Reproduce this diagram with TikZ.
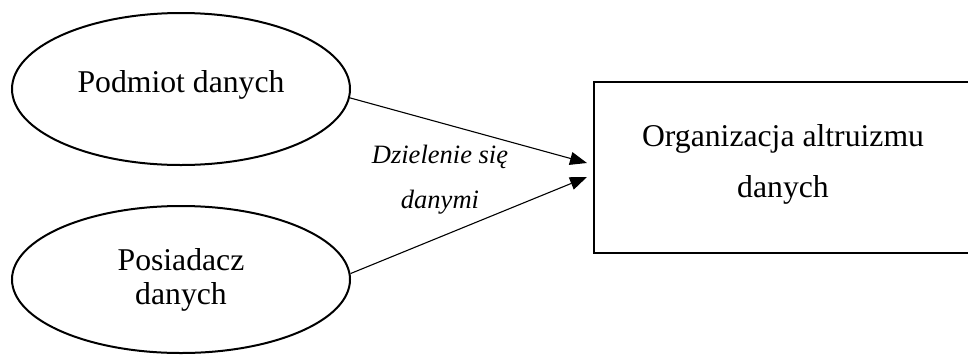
\documentclass[tikz,border=0pt]{standalone}
\usepackage{fontspec}
\setmainfont{Liberation Serif}
\usetikzlibrary{shapes.geometric,arrows.meta}
\begin{document}
\begin{tikzpicture}[x=1pt,y=-1pt,
  actor/.style={ellipse,draw,line width=2pt,minimum width=338pt,align=center,
    font=\fontsize{31.7}{34}\selectfont,inner sep=0pt},
  orgbox/.style={rectangle,draw,line width=2pt,minimum width=410pt,minimum height=171pt,inner sep=0pt},
  orgtext/.style={align=center,font=\fontsize{31.7}{51}\selectfont,inner sep=0pt},
  flow/.style={line width=1.1pt,-{Triangle[length=17pt,width=13pt]}},
  flowlabel/.style={align=center,font=\fontsize{26.5}{45}\selectfont\itshape,inner sep=0pt}]
\useasboundingbox (0,0) rectangle (968,354);
\clip (0,0) rectangle (968,354);
\node[actor,minimum height=152pt,text height=21.7pt,text depth=15pt] (e1) at (181,89) {Podmiot danych};
\node[actor,minimum height=147pt] (e2) at (181,279.5) {Posiadacz\\danych};
\node[orgbox] (org) at (799,167.5) {};
\node[orgtext] (orgtxt) at (783,164) {Organizacja altruizmu\\danych};
\coordinate (t1) at (587,163);
\coordinate (t2) at (587,177);
\draw[flow] (e1.-3) -- (t1);
\draw[flow] (e2.2) -- (t2);
\node[flowlabel] (lab) at (440,179.3) {Dzielenie się\\danymi};
\end{tikzpicture}
\end{document}
